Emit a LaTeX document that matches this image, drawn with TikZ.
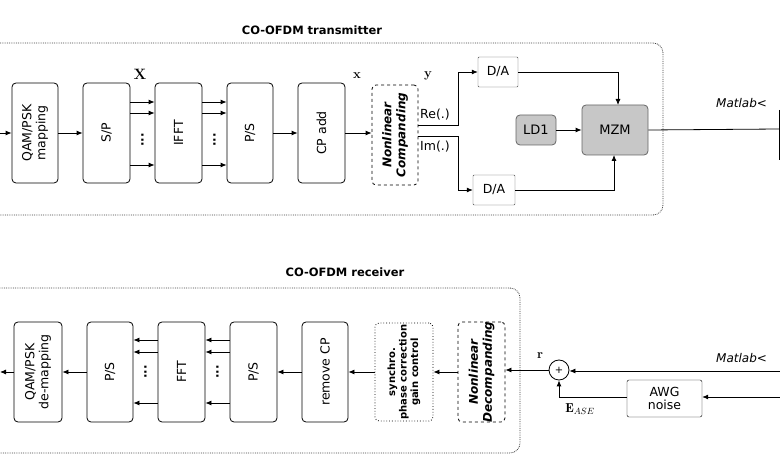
\documentclass[tikz,border=0pt]{standalone}
\usepackage{fontspec}
\newfontfamily\dv{DejaVu Sans}
\usetikzlibrary{arrows.meta}
\begin{document}
\begin{tikzpicture}[x=1pt,y=-1pt,
  blk/.style={draw,thick,rounded corners=4pt,inner sep=0pt},
  gray blk/.style={blk,fill=black!22,draw=black!60,font=\dv\fontsize{13}{14}\selectfont},
  dashblk/.style={blk,dashed},
  frame/.style={draw=black!75,densely dotted,thick,rounded corners=10pt},
  arr/.style={thick,-{Latex[length=6pt,width=5pt]}},
  lab/.style={font=\dv\fontsize{12.5}{14}\selectfont},
  ttl/.style={font=\dv\fontsize{11.5}{13}\selectfont\bfseries}]
\useasboundingbox (0,0) rectangle (780,470);
\begin{scope}
\clip (0,0) rectangle (780,470);
% ---------- transmitter ----------
\node[ttl] (ttx) at (312,30) {CO-OFDM transmitter};
\draw[frame] (-10,43) rectangle (663,215);
\node[blk,minimum width=46pt,minimum height=100pt] (qam) at (35,133) {};
\node[rotate=90,align=center,lab] at (qam) {QAM/PSK\\mapping};
\node[blk,minimum width=47pt,minimum height=100pt] (sp) at (106.5,133) {};
\node[rotate=90,lab] at (sp) {S/P};
\node[blk,minimum width=47pt,minimum height=100pt] (ifft) at (178.5,133) {};
\node[rotate=90,lab] at (ifft) {IFFT};
\node[blk,minimum width=46pt,minimum height=100pt] (ps1) at (250,133) {};
\node[rotate=90,lab] at (ps1) {P/S};
\node[blk,minimum width=47pt,minimum height=100pt] (cp) at (321.5,133) {};
\node[rotate=90,lab] at (cp) {CP add};
\node[dashblk,minimum width=46pt,minimum height=100pt] (comp) at (395,135) {};
\node[rotate=90,align=center,font=\dv\fontsize{12}{14}\selectfont\bfseries\itshape] at (comp) {Nonlinear\\Companding};
\coordinate (in1) at (0,133);
\draw[arr] (in1) -- (qam);
\draw[arr] (qam) -- (sp);
\foreach \yy in {102,113,165}{
  \draw[arr] (sp.east|-0,\yy) -- (ifft.west|-0,\yy);
  \draw[arr] (ifft.east|-0,\yy) -- (ps1.west|-0,\yy);}
\node[rotate=90,lab,font=\dv\bfseries\fontsize{12}{12}\selectfont] at (142.5,140) {...};
\node[rotate=90,lab,font=\dv\bfseries\fontsize{12}{12}\selectfont] at (214.5,140) {...};
\draw[arr] (ps1) -- (cp);
\draw[arr] (cp.east) -- (comp.west|-cp.east);
\node[font=\bfseries\fontsize{15}{15}\selectfont] (X) at (140,74) {X};
\node[font=\bfseries\fontsize{13}{13}\selectfont] (xl) at (357,76) {x};
\node[font=\bfseries\fontsize{13}{13}\selectfont] (yl) at (428,76) {y};
\node[blk,rounded corners=1pt,draw=black!70,thin,minimum width=40pt,minimum height=30pt,lab] (da1) at (498,72) {D/A};
\node[blk,rounded corners=1pt,draw=black!70,thin,minimum width=42pt,minimum height=30pt,lab] (da2) at (494,190) {D/A};
\node[gray blk,minimum width=40pt,minimum height=30pt] (ld) at (536,130) {LD1};
\node[gray blk,minimum width=66pt,minimum height=50pt] (mzm) at (615,130) {MZM};
\draw[arr] (comp.east|-0,125) -- (458,125) -- (458,72) -- (da1.west);
\draw[arr] (comp.east|-0,136) -- (458,136) -- (458,190) -- (da2.west);
\node[lab,anchor=west,inner sep=1pt] (re) at (419,115) {Re(.)};
\node[lab,anchor=west,inner sep=1pt] (im) at (419,147) {Im(.)};
\draw[arr] (da1.east) -- (618,72) -- (618,105);
\draw[arr] (da2.east) -- (614,190) -- (614,155);
\draw[arr] (ld) -- (mzm);
\coordinate (tout) at (779,129);
\draw[thick] (mzm.east) -- (tout);
\draw[thick] (779,110) -- (779,160);
\node[font=\dv\fontsize{12}{13}\selectfont\itshape,anchor=west,inner sep=0pt] (m1) at (716,103) {Matlab<};
% ---------- receiver ----------
\node[ttl] (trx) at (345,272) {CO-OFDM receiver};
\draw[frame] (-10,288) rectangle (520,453);
\node[blk,minimum width=48pt,minimum height=100pt] (dem) at (38,372) {};
\node[rotate=90,align=center,lab] at (dem) {QAM/PSK\\de-mapping};
\node[blk,minimum width=46pt,minimum height=100pt] (ps2) at (110,372) {};
\node[rotate=90,lab] at (ps2) {P/S};
\node[blk,minimum width=47pt,minimum height=100pt] (fft) at (181.5,372) {};
\node[rotate=90,lab] at (fft) {FFT};
\node[blk,minimum width=47pt,minimum height=100pt] (ps3) at (253.5,372) {};
\node[rotate=90,lab] at (ps3) {P/S};
\node[blk,minimum width=46pt,minimum height=100pt] (rcp) at (325,372) {};
\node[rotate=90,lab] at (rcp) {remove CP};
\node[blk,dotted,minimum width=58pt,minimum height=98pt] (syn) at (404,372) {};
\node[rotate=90,align=center,font=\dv\fontsize{10}{11.5}\selectfont\bfseries] at (syn) {synchro.\\phase correction\\gain control};
\node[dashblk,minimum width=47pt,minimum height=100pt] (dec) at (481.5,372) {};
\node[rotate=90,align=center,font=\dv\fontsize{12}{14}\selectfont\bfseries\itshape] at (dec) {Nonlinear\\Decompanding};
\coordinate (out2) at (0,372);
\draw[arr] (dem) -- (out2);
\draw[arr] (ps2) -- (dem);
\foreach \yy in {340,352,403}{
  \draw[arr] (fft.west|-0,\yy) -- (ps2.east|-0,\yy);
  \draw[arr] (ps3.west|-0,\yy) -- (fft.east|-0,\yy);}
\node[rotate=90,font=\dv\bfseries\fontsize{12}{12}\selectfont] at (145.5,372) {...};
\node[rotate=90,font=\dv\bfseries\fontsize{12}{12}\selectfont] at (217.5,372) {...};
\draw[arr] (rcp) -- (ps3);
\draw[arr] (syn) -- (rcp);
\draw[arr] (dec) -- (syn);
\node[draw,thick,circle,minimum size=20pt,inner sep=0pt,font=\dv] (sum) at (559,370) {+};
\draw[arr] (sum) -- (dec.east|-sum);
\node[font=\bfseries\fontsize{13}{13}\selectfont] (rl) at (540,356) {r};
\node[blk,rounded corners=2pt,thin,minimum width=75pt,minimum height=37pt,align=center,lab,font=\dv\fontsize{12.5}{13.5}\selectfont] (awg) at (664.5,398.5) {AWG\\noise};
\coordinate (rin1) at (780,371);
\coordinate (rin2) at (780,397);
\draw[arr] (rin1) -- (sum.east|-rin1);
\draw[arr] (rin2) -- (awg.east|-rin2);
\draw[arr] (awg.west|-rin2) -- (559,397) -- (sum.south);
\node[font=\fontsize{13}{13}\selectfont] (ease) at (580,409) {$\mathbf{E}_{ASE}$};
\node[font=\dv\fontsize{12}{13}\selectfont\itshape,anchor=west,inner sep=0pt] (m2) at (716,358) {Matlab<};
\end{scope}
\end{tikzpicture}
\end{document}
